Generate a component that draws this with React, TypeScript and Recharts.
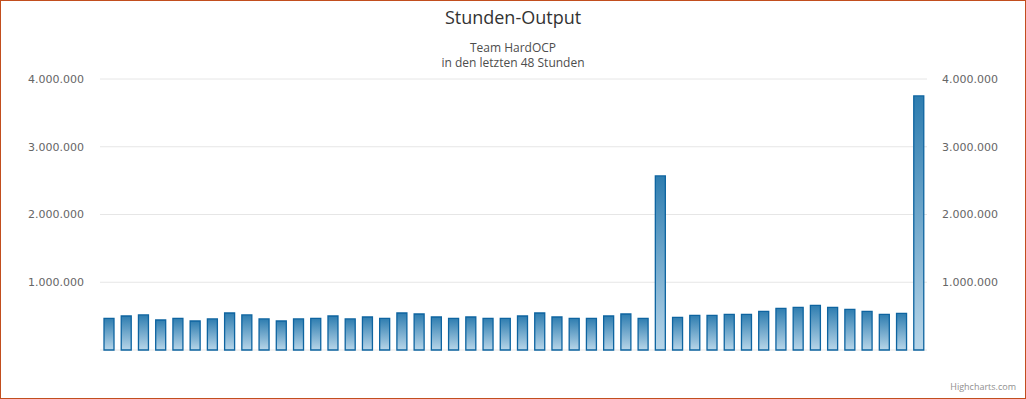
import { Bar, CartesianGrid, ComposedChart, Line, XAxis, YAxis } from 'recharts'

const stunden = Array.from({ length: 48 }, (_, i) => `${i + 1}`)

const output = [
  468000, 502000, 517000, 443000, 468000, 428000, 458000, 546000, 517000, 458000,
  428000, 458000, 468000, 502000, 458000, 487000, 468000, 546000, 531000, 487000,
  468000, 487000, 468000, 468000, 502000, 546000, 487000, 468000, 468000, 502000,
  531000, 468000, 2570000, 482000, 512000, 512000, 527000, 527000, 571000, 615000,
  630000, 660000, 630000, 600000, 571000, 527000, 541000, 3750000
]

const yTicks = [0, 1000000, 2000000, 3000000, 4000000]

const dadosGrafico = stunden.map((s, i) => ({ stunde: s, output: output[i] }))

const formatTick = (v: number) =>
  v === 0 ? '' : v.toLocaleString('de-DE')

const tickStyle = { fill: '#666', fontSize: 11, fontFamily: 'DejaVu Sans' }

export default function App() {
  return (
    <div
      style={{
        position: 'fixed',
        left: 0,
        top: 0,
        width: 1026,
        height: 399,
        background: '#fff',
        fontFamily: '"Open Sans", sans-serif'
      }}
    >
      <div
        style={{
          position: 'absolute',
          left: 0,
          top: 0,
          width: 1026,
          height: 399,
          border: '1px solid #C24E1E',
          boxSizing: 'border-box'
        }}
      />
      <div
        style={{
          position: 'absolute',
          top: 5,
          width: 1026,
          textAlign: 'center',
          fontSize: 18,
          color: '#333'
        }}
      >
        Stunden-Output
      </div>
      <div
        style={{
          position: 'absolute',
          top: 40,
          width: 1026,
          textAlign: 'center',
          fontSize: 12,
          lineHeight: '15px',
          color: '#4D4D4D'
        }}
      >
        Team HardOCP
        <br />
        in den letzten 48 Stunden
      </div>
      <div
        style={{
          position: 'absolute',
          right: 10,
          top: 380,
          fontSize: 9,
          color: '#909090'
        }}
      >
        Highcharts.com
      </div>
      <div style={{ position: 'absolute', left: 0, top: 0 }}>
        <ComposedChart
          width={1026}
          height={399}
          data={dadosGrafico}
          margin={{ top: 79, right: 0, bottom: 49, left: 0 }}
          barSize={10}
        >
          <defs>
            <linearGradient id="barGrad" x1="0" y1="0" x2="0" y2="1">
              <stop offset="0%" stopColor="#2E7DB0" />
              <stop offset="100%" stopColor="#B8D6E9" />
            </linearGradient>
          </defs>
          <CartesianGrid vertical={false} stroke="#E6E6E6" yAxisId="left" />
          <XAxis dataKey="stunde" hide />
          <YAxis
            yAxisId="left"
            width={100}
            domain={[0, 4000000]}
            ticks={yTicks}
            tickFormatter={formatTick}
            axisLine={false}
            tickLine={false}
            tickMargin={10}
            tick={tickStyle}
          />
          <YAxis
            yAxisId="right"
            orientation="right"
            width={99}
            domain={[0, 4000000]}
            ticks={yTicks}
            tickFormatter={formatTick}
            axisLine={false}
            tickLine={false}
            tickMargin={9}
            tick={tickStyle}
          />
          <Bar
            yAxisId="left"
            dataKey="output"
            fill="url(#barGrad)"
            stroke="#0E64A0"
            strokeWidth={1.3}
            isAnimationActive={false}
          />
          <Line
            yAxisId="right"
            dataKey="output"
            stroke="none"
            dot={false}
            activeDot={false}
            legendType="none"
            isAnimationActive={false}
          />
        </ComposedChart>
      </div>
    </div>
  )
}
